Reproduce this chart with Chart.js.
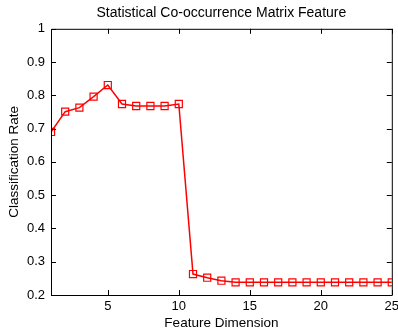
<!DOCTYPE html>
<html>
<head>
<meta charset="utf-8">
<script src="https://cdn.jsdelivr.net/npm/chart.js@4"></script>
<style>
  html, body { margin: 0; padding: 0; background: #fff; }
  #wrap { width: 398px; height: 333px; }
</style>
</head>
<body>
<div id="wrap"><canvas id="chart" width="398" height="333"></canvas></div>
<script>
const dims = [1, 2, 3, 4, 5, 6, 7, 8, 9, 10, 11, 12, 13, 14, 15, 16, 17, 18, 19, 20, 21, 22, 23, 24, 25];
const rates = [0.690, 0.751, 0.763, 0.796, 0.831, 0.774, 0.768, 0.768, 0.768, 0.774,
    0.263, 0.252, 0.243, 0.238, 0.238, 0.238, 0.238, 0.238, 0.238, 0.238, 0.238, 0.238, 0.238, 0.238, 0.238];
const xTicks = [5, 10, 15, 20, 25];
const yTicks = [0.2, 0.3, 0.4, 0.5, 0.6, 0.7, 0.8, 0.9, 1];

const fontFam = '"Liberation Sans", Arial, sans-serif';

// MATLAB style box with inward ticks
const boxPlugin = {
    id: 'matlabBox',
    afterDraw: (chart) => {
        const { ctx, chartArea: a, scales } = chart;
        ctx.save();
        ctx.strokeStyle = '#000';
        ctx.lineWidth = 1;
        ctx.beginPath();
        ctx.rect(a.left + 0.5, a.top + 0.5, a.right - a.left, a.bottom - a.top);
        ctx.stroke();
        const len = 5;
        ctx.beginPath();
        xTicks.forEach(v => {
            const px = Math.round(scales.x.getPixelForValue(v)) + 0.5;
            ctx.moveTo(px, a.bottom);
            ctx.lineTo(px, a.bottom - len);
            ctx.moveTo(px, a.top);
            ctx.lineTo(px, a.top + len);
        });
        yTicks.forEach(v => {
            const py = Math.round(scales.y.getPixelForValue(v)) + 0.5;
            ctx.moveTo(a.left, py);
            ctx.lineTo(a.left + len, py);
            ctx.moveTo(a.right, py);
            ctx.lineTo(a.right - len, py);
        });
        ctx.stroke();
        ctx.restore();
    }
};

new Chart(document.getElementById('chart').getContext('2d'), {
    type: 'line',
    data: {
        labels: dims,
        datasets: [{
            data: dims.map((d, i) => ({ x: d, y: rates[i] })),
            borderColor: '#ff0000',
            borderWidth: 1.5,
            backgroundColor: 'rgba(0,0,0,0)',
            pointStyle: 'rect',
            pointRadius: 5,
            pointBorderWidth: 1.2,
            pointBorderColor: '#ff0000',
            pointBackgroundColor: 'rgba(0,0,0,0)',
            tension: 0
        }]
    },
    options: {
        responsive: false,
        animation: false,
        devicePixelRatio: 1,
        layout: { padding: { left: 0, right: 6, top: 0, bottom: 0 } },
        plugins: {
            legend: { display: false },
            tooltip: { enabled: false },
            title: {
                display: true,
                fullSize: false,
                text: 'Statistical Co-occurrence Matrix Feature',
                color: '#000',
                font: { family: fontFam, size: 14, weight: 'normal' },
                padding: { top: 5, bottom: 7 }
            }
        },
        scales: {
            x: {
                type: 'linear',
                min: 1,
                max: 25,
                afterBuildTicks: (s) => { s.ticks = xTicks.map(v => ({ value: v })); },
                afterFit: (s) => { s.height = 38; s.paddingRight = 0; },
                grid: { display: false, drawTicks: false },
                border: { display: false },
                ticks: {
                    color: '#000',
                    padding: 4,
                    maxRotation: 0,
                    font: { family: fontFam, size: 13 }
                },
                title: {
                    display: true,
                    text: 'Feature Dimension',
                    color: '#000',
                    font: { family: fontFam, size: 13.5 },
                    padding: { top: 0, bottom: 2 }
                }
            },
            y: {
                type: 'linear',
                min: 0.2,
                max: 1,
                afterBuildTicks: (s) => { s.ticks = yTicks.map(v => ({ value: v })); },
                afterFit: (s) => { s.width = 51; },
                grid: { display: false, drawTicks: false },
                border: { display: false },
                ticks: {
                    color: '#000',
                    padding: 6,
                    font: { family: fontFam, size: 13 },
                    callback: (v) => String(Math.round(v * 10) / 10)
                },
                title: {
                    display: true,
                    text: 'Classification Rate',
                    color: '#000',
                    font: { family: fontFam, size: 13.5 },
                    padding: { top: 6, bottom: 2 }
                }
            }
        }
    },
    plugins: [boxPlugin]
});
</script>
</body>
</html>
